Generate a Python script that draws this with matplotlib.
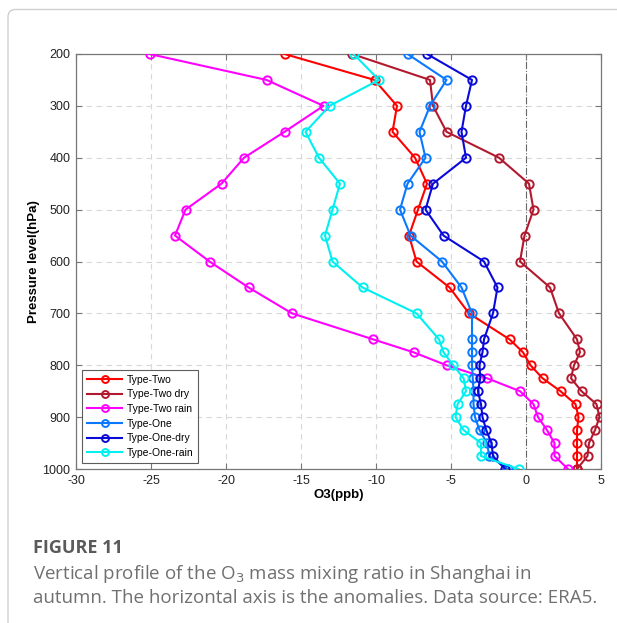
import numpy as np
import matplotlib.pyplot as plt
from matplotlib.patches import FancyBboxPatch

levels = [200, 250, 300, 350, 400, 450, 500, 550, 600, 650, 700,
          750, 775, 800, 825, 850, 875, 900, 925, 950, 975, 1000]

type_two = [-16.1, -10.1, -8.6, -8.9, -7.4, -6.6, -7.2, -7.8, -7.3, -5.1, -3.8,
            -1.1, -0.2, 0.3, 1.1, 2.3, 3.3, 3.5, 3.4, 3.4, 3.4, 3.4]
type_two_dry = [-11.6, -6.4, -6.2, -5.3, -1.8, 0.2, 0.5, -0.1, -0.4, 1.6, 2.2,
                3.4, 3.6, 3.2, 3.0, 3.7, 4.7, 4.9, 4.6, 4.2, 4.1, 3.4]
type_two_rain = [-25.1, -17.3, -13.5, -16.1, -18.8, -20.3, -22.7, -23.4, -21.1, -18.5, -15.6,
                 -10.2, -7.5, -5.3, -2.6, -0.4, 0.5, 0.8, 1.4, 1.9, 1.9, 2.8]
type_one = [-7.9, -5.3, -6.4, -7.1, -6.7, -7.9, -8.4, -7.7, -5.6, -4.3, -3.6,
            -3.6, -3.6, -3.6, -3.55, -3.5, -3.5, -3.4, -3.1, -2.6, -2.45, -1.2]
type_one_dry = [-6.6, -3.6, -4.0, -4.3, -4.0, -6.2, -6.7, -5.5, -2.8, -1.9, -2.2,
                -2.8, -2.9, -3.1, -3.05, -3.2, -3.0, -2.9, -2.65, -2.3, -2.2, -1.4]
type_one_rain = [-11.5, -9.8, -13.1, -14.7, -13.8, -12.4, -12.9, -13.4, -12.9, -10.9, -7.3,
                 -5.8, -5.5, -4.85, -4.16, -4.0, -4.56, -4.7, -4.16, -3.0, -3.0, -0.5]

series = [
    ("Type-Two", type_two, "#ff0000"),
    ("Type-Two dry", type_two_dry, "#b3192e"),
    ("Type-Two rain", type_two_rain, "#ff00ff"),
    ("Type-One", type_one, "#0a78ff"),
    ("Type-One-dry", type_one_dry, "#0a0ad8"),
    ("Type-One-rain", type_one_rain, "#00f0f0"),
]

xticks = np.arange(-30, 6, 5)
yticks = np.arange(200, 1001, 100)

plt.rcParams['font.family'] = ['Liberation Sans', 'DejaVu Sans']
plt.rcParams['axes.unicode_minus'] = False

fig = plt.figure(figsize=(6.17, 6.23), dpi=100)

# card border round the figure
card = FancyBboxPatch((8 / 617, -0.05), 1.2, 1 - 9.5 / 623 + 0.05,
                      boxstyle="round,pad=0,rounding_size=0.012",
                      transform=fig.transFigure, fill=False,
                      edgecolor="#d0d0d0", linewidth=1.0)
fig.patches.append(card)

ax = fig.add_axes([76 / 617, 1 - 469 / 623, 525 / 617, 415 / 623])

for x in xticks:
    if x != 0:
        ax.axvline(x, color="#d8d8d8", lw=0.8, ls=(0, (5, 4)), zorder=0)
for y in yticks:
    ax.axhline(y, color="#d8d8d8", lw=0.8, ls=(0, (5, 4)), zorder=0)
ax.axvline(0, color="#666666", lw=0.8, ls="-.", zorder=1)

for name, vals, col in series:
    ax.plot(vals, levels, color=col, lw=1.5, marker="o", ms=6,
            mfc="none", mec=col, mew=1.4, label=name, zorder=3)

ax.set_xlim(-30, 5)
ax.set_ylim(1000, 200)
ax.set_xticks(xticks)
ax.set_yticks(yticks)
ax.tick_params(direction="in", length=4, width=0.8, colors="#777777",
               labelcolor="#222222", labelsize=9, top=True, right=True, pad=4)
for sp in ax.spines.values():
    sp.set_color("#777777")
    sp.set_linewidth(0.9)

ax.set_xlabel("O3(ppb)", fontsize=9.5, fontweight="bold", labelpad=2)
ax.set_ylabel("Pressure level(hPa)", fontsize=9.5, fontweight="bold")
ax.yaxis.set_label_coords(-0.069, 0.5)

leg = ax.legend(loc="lower left", fontsize=7.5, frameon=True, fancybox=False,
                borderpad=0.45, labelspacing=0.45, handlelength=3.4,
                handletextpad=0.4, borderaxespad=0.6)
leg.get_frame().set_edgecolor("#333333")
leg.get_frame().set_linewidth(0.8)
for h in leg.get_lines():
    h.set_markersize(5)

fig.text(33 / 617, 1 - 548 / 623, "FIGURE 11", fontsize=13, fontweight="bold",
         color="#5a5a5a", family=["Open Sans", "DejaVu Sans"], va="center")
fig.text(33 / 617, 1 - 574 / 623,
         "Vertical profile of the O$_3$ mass mixing ratio in Shanghai in",
         fontsize=13.5, color="#707070", family=["Open Sans", "DejaVu Sans"], va="center")
fig.text(33 / 617, 1 - 598 / 623,
         "autumn. The horizontal axis is the anomalies. Data source: ERA5.",
         fontsize=13.5, color="#707070", family=["Open Sans", "DejaVu Sans"], va="center")

fig.savefig("out.png", dpi=100)
